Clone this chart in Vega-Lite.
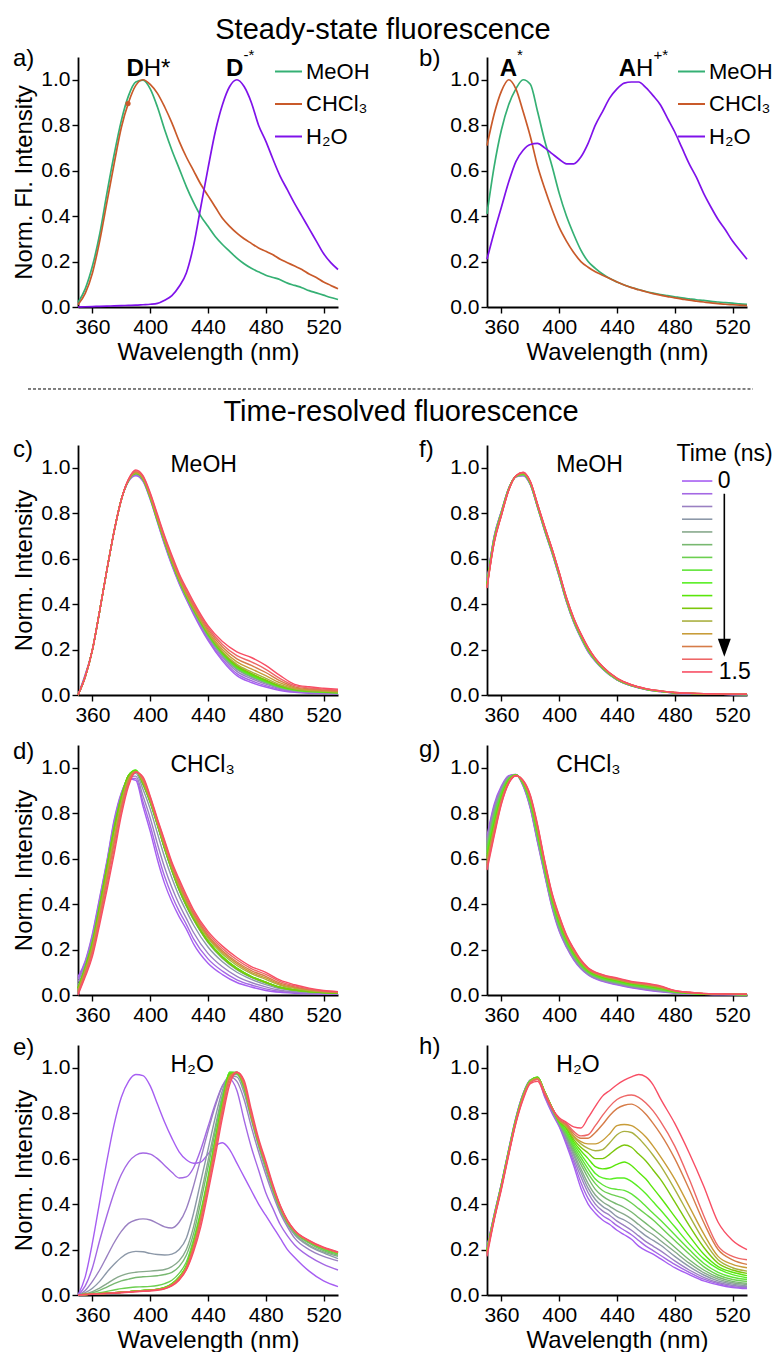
{
"$schema":"https://vega.github.io/schema/vega-lite/v6.json",
"padding":{"left":12,"top":16,"right":0,"bottom":0},
"background":"white",
"title":{"text":"Steady-state fluorescence","fontSize":29,"fontWeight":"normal","font":"Liberation Sans","color":"#000","anchor":"middle","frame":"bounds","dx":-10,"offset":2},
"config":{"font":"Liberation Sans","view":{"stroke":null},
"axis":{"labelFont":"Liberation Sans","labelFontSize":21,"labelColor":"#000","titleFont":"Liberation Sans","titleFontSize":24,"titleFontWeight":"normal","titleColor":"#000","domainColor":"#000","domainWidth":1.8,"tickColor":"#000","tickWidth":1.4,"grid":false,"labelOverlap":false,"labelFlush":false,"labelPadding":3},
"axisX":{"titlePadding":3},"axisY":{"titlePadding":4,"labelPadding":2},
"legend":{"labelFont":"Liberation Sans","labelColor":"#000","padding":0},
"text":{"font":"Liberation Sans","color":"#000"}},
"datasets":{
"times":[{"key":"t0","t":0},{"key":"t1","t":0.1},{"key":"t2","t":0.2},{"key":"t3","t":0.3},{"key":"t4","t":0.4},{"key":"t5","t":0.5},{"key":"t6","t":0.6},{"key":"t7","t":0.7},{"key":"t8","t":0.8},{"key":"t9","t":0.9},{"key":"t10","t":1.0},{"key":"t11","t":1.1},{"key":"t12","t":1.2},{"key":"t13","t":1.3},{"key":"t14","t":1.4},{"key":"t15","t":1.5}],
"a":[
{"w":350,"MeOH":0.02,"CHCl3":0.01,"H2O":0},
{"w":355,"MeOH":0.08,"CHCl3":0.06,"H2O":0.001},
{"w":360,"MeOH":0.18,"CHCl3":0.15,"H2O":0.002},
{"w":365,"MeOH":0.32,"CHCl3":0.29,"H2O":0.003},
{"w":370,"MeOH":0.5,"CHCl3":0.46,"H2O":0.004},
{"w":375,"MeOH":0.67,"CHCl3":0.63,"H2O":0.005},
{"w":380,"MeOH":0.82,"CHCl3":0.79,"H2O":0.006},
{"w":385,"MeOH":0.93,"CHCl3":0.9,"H2O":0.007},
{"w":390,"MeOH":0.99,"CHCl3":0.975,"H2O":0.008},
{"w":395,"MeOH":0.998,"CHCl3":1.0,"H2O":0.01},
{"w":400,"MeOH":0.96,"CHCl3":0.98,"H2O":0.012},
{"w":405,"MeOH":0.88,"CHCl3":0.94,"H2O":0.016},
{"w":410,"MeOH":0.78,"CHCl3":0.88,"H2O":0.03},
{"w":415,"MeOH":0.69,"CHCl3":0.81,"H2O":0.05},
{"w":420,"MeOH":0.61,"CHCl3":0.73,"H2O":0.09},
{"w":425,"MeOH":0.53,"CHCl3":0.66,"H2O":0.15},
{"w":430,"MeOH":0.46,"CHCl3":0.6,"H2O":0.27},
{"w":435,"MeOH":0.4,"CHCl3":0.54,"H2O":0.44},
{"w":440,"MeOH":0.355,"CHCl3":0.49,"H2O":0.61},
{"w":445,"MeOH":0.31,"CHCl3":0.44,"H2O":0.77},
{"w":450,"MeOH":0.275,"CHCl3":0.39,"H2O":0.89},
{"w":455,"MeOH":0.245,"CHCl3":0.355,"H2O":0.97},
{"w":460,"MeOH":0.215,"CHCl3":0.325,"H2O":1.0},
{"w":465,"MeOH":0.19,"CHCl3":0.3,"H2O":0.97},
{"w":470,"MeOH":0.17,"CHCl3":0.28,"H2O":0.9},
{"w":475,"MeOH":0.155,"CHCl3":0.26,"H2O":0.8},
{"w":480,"MeOH":0.14,"CHCl3":0.245,"H2O":0.73},
{"w":485,"MeOH":0.13,"CHCl3":0.23,"H2O":0.65},
{"w":490,"MeOH":0.12,"CHCl3":0.21,"H2O":0.575},
{"w":495,"MeOH":0.105,"CHCl3":0.195,"H2O":0.515},
{"w":500,"MeOH":0.095,"CHCl3":0.18,"H2O":0.455},
{"w":505,"MeOH":0.085,"CHCl3":0.165,"H2O":0.4},
{"w":510,"MeOH":0.072,"CHCl3":0.145,"H2O":0.345},
{"w":515,"MeOH":0.062,"CHCl3":0.13,"H2O":0.29},
{"w":520,"MeOH":0.052,"CHCl3":0.11,"H2O":0.235},
{"w":525,"MeOH":0.042,"CHCl3":0.095,"H2O":0.195},
{"w":530,"MeOH":0.033,"CHCl3":0.08,"H2O":0.165}],
"b":[
{"w":350,"MeOH":0.41,"CHCl3":0.71,"H2O":0.21},
{"w":355,"MeOH":0.62,"CHCl3":0.85,"H2O":0.33},
{"w":360,"MeOH":0.78,"CHCl3":0.95,"H2O":0.44},
{"w":365,"MeOH":0.89,"CHCl3":1.0,"H2O":0.55},
{"w":370,"MeOH":0.96,"CHCl3":0.96,"H2O":0.64},
{"w":375,"MeOH":1.0,"CHCl3":0.86,"H2O":0.69},
{"w":380,"MeOH":0.98,"CHCl3":0.75,"H2O":0.715},
{"w":385,"MeOH":0.86,"CHCl3":0.62,"H2O":0.72},
{"w":390,"MeOH":0.73,"CHCl3":0.52,"H2O":0.7},
{"w":395,"MeOH":0.62,"CHCl3":0.43,"H2O":0.675},
{"w":400,"MeOH":0.5,"CHCl3":0.35,"H2O":0.65},
{"w":405,"MeOH":0.4,"CHCl3":0.29,"H2O":0.63},
{"w":410,"MeOH":0.32,"CHCl3":0.24,"H2O":0.63},
{"w":415,"MeOH":0.25,"CHCl3":0.2,"H2O":0.66},
{"w":420,"MeOH":0.2,"CHCl3":0.175,"H2O":0.72},
{"w":425,"MeOH":0.17,"CHCl3":0.155,"H2O":0.8},
{"w":430,"MeOH":0.145,"CHCl3":0.14,"H2O":0.86},
{"w":435,"MeOH":0.125,"CHCl3":0.125,"H2O":0.92},
{"w":440,"MeOH":0.11,"CHCl3":0.11,"H2O":0.96},
{"w":445,"MeOH":0.097,"CHCl3":0.097,"H2O":0.985},
{"w":450,"MeOH":0.086,"CHCl3":0.085,"H2O":0.99},
{"w":455,"MeOH":0.077,"CHCl3":0.076,"H2O":0.99},
{"w":460,"MeOH":0.068,"CHCl3":0.067,"H2O":0.965},
{"w":465,"MeOH":0.061,"CHCl3":0.059,"H2O":0.93},
{"w":470,"MeOH":0.055,"CHCl3":0.052,"H2O":0.89},
{"w":475,"MeOH":0.05,"CHCl3":0.046,"H2O":0.83},
{"w":480,"MeOH":0.045,"CHCl3":0.04,"H2O":0.77},
{"w":485,"MeOH":0.04,"CHCl3":0.035,"H2O":0.7},
{"w":490,"MeOH":0.036,"CHCl3":0.03,"H2O":0.63},
{"w":495,"MeOH":0.032,"CHCl3":0.026,"H2O":0.57},
{"w":500,"MeOH":0.029,"CHCl3":0.022,"H2O":0.5},
{"w":505,"MeOH":0.025,"CHCl3":0.018,"H2O":0.44},
{"w":510,"MeOH":0.022,"CHCl3":0.015,"H2O":0.385},
{"w":515,"MeOH":0.019,"CHCl3":0.012,"H2O":0.34},
{"w":520,"MeOH":0.017,"CHCl3":0.01,"H2O":0.29},
{"w":525,"MeOH":0.014,"CHCl3":0.008,"H2O":0.25},
{"w":530,"MeOH":0.012,"CHCl3":0.006,"H2O":0.21}],
"c":[
{"w":350,"t0":0,"t1":0,"t2":0,"t3":0,"t4":0,"t5":0,"t6":0,"t7":0,"t8":0,"t9":0,"t10":0,"t11":0,"t12":0,"t13":0,"t14":0,"t15":0},
{"w":355,"t0":0.09,"t1":0.088,"t2":0.085,"t3":0.082,"t4":0.08,"t5":0.08,"t6":0.08,"t7":0.08,"t8":0.08,"t9":0.08,"t10":0.08,"t11":0.08,"t12":0.08,"t13":0.08,"t14":0.08,"t15":0.08},
{"w":360,"t0":0.2,"t1":0.2,"t2":0.2,"t3":0.2,"t4":0.2,"t5":0.2,"t6":0.2,"t7":0.2,"t8":0.2,"t9":0.2,"t10":0.2,"t11":0.2,"t12":0.2,"t13":0.2,"t14":0.2,"t15":0.2},
{"w":365,"t0":0.37,"t1":0.37,"t2":0.37,"t3":0.37,"t4":0.37,"t5":0.37,"t6":0.37,"t7":0.37,"t8":0.37,"t9":0.37,"t10":0.37,"t11":0.37,"t12":0.37,"t13":0.37,"t14":0.37,"t15":0.37},
{"w":370,"t0":0.55,"t1":0.55,"t2":0.55,"t3":0.55,"t4":0.55,"t5":0.55,"t6":0.55,"t7":0.55,"t8":0.55,"t9":0.55,"t10":0.55,"t11":0.55,"t12":0.55,"t13":0.55,"t14":0.55,"t15":0.55},
{"w":375,"t0":0.72,"t1":0.72,"t2":0.72,"t3":0.72,"t4":0.72,"t5":0.72,"t6":0.72,"t7":0.72,"t8":0.72,"t9":0.72,"t10":0.72,"t11":0.72,"t12":0.72,"t13":0.72,"t14":0.72,"t15":0.72},
{"w":380,"t0":0.86,"t1":0.86,"t2":0.86,"t3":0.86,"t4":0.86,"t5":0.86,"t6":0.86,"t7":0.86,"t8":0.86,"t9":0.86,"t10":0.86,"t11":0.86,"t12":0.86,"t13":0.86,"t14":0.86,"t15":0.86},
{"w":385,"t0":0.94,"t1":0.941,"t2":0.943,"t3":0.944,"t4":0.945,"t5":0.945,"t6":0.945,"t7":0.945,"t8":0.945,"t9":0.945,"t10":0.946,"t11":0.946,"t12":0.947,"t13":0.948,"t14":0.949,"t15":0.95},
{"w":390,"t0":0.965,"t1":0.968,"t2":0.971,"t3":0.973,"t4":0.975,"t5":0.975,"t6":0.975,"t7":0.975,"t8":0.975,"t9":0.975,"t10":0.977,"t11":0.978,"t12":0.98,"t13":0.983,"t14":0.986,"t15":0.99},
{"w":395,"t0":0.94,"t1":0.943,"t2":0.946,"t3":0.948,"t4":0.95,"t5":0.95,"t6":0.95,"t7":0.95,"t8":0.95,"t9":0.95,"t10":0.952,"t11":0.953,"t12":0.955,"t13":0.958,"t14":0.961,"t15":0.965},
{"w":400,"t0":0.86,"t1":0.863,"t2":0.866,"t3":0.868,"t4":0.87,"t5":0.87,"t6":0.87,"t7":0.87,"t8":0.87,"t9":0.87,"t10":0.872,"t11":0.874,"t12":0.877,"t13":0.881,"t14":0.885,"t15":0.89},
{"w":405,"t0":0.76,"t1":0.763,"t2":0.766,"t3":0.768,"t4":0.77,"t5":0.77,"t6":0.77,"t7":0.77,"t8":0.77,"t9":0.77,"t10":0.773,"t11":0.775,"t12":0.779,"t13":0.784,"t14":0.789,"t15":0.795},
{"w":410,"t0":0.66,"t1":0.664,"t2":0.668,"t3":0.672,"t4":0.675,"t5":0.675,"t6":0.675,"t7":0.675,"t8":0.675,"t9":0.675,"t10":0.678,"t11":0.68,"t12":0.684,"t13":0.689,"t14":0.694,"t15":0.7},
{"w":415,"t0":0.57,"t1":0.574,"t2":0.578,"t3":0.582,"t4":0.585,"t5":0.585,"t6":0.585,"t7":0.585,"t8":0.585,"t9":0.585,"t10":0.588,"t11":0.591,"t12":0.596,"t13":0.602,"t14":0.608,"t15":0.615},
{"w":420,"t0":0.49,"t1":0.494,"t2":0.498,"t3":0.502,"t4":0.505,"t5":0.505,"t6":0.505,"t7":0.505,"t8":0.505,"t9":0.505,"t10":0.508,"t11":0.511,"t12":0.516,"t13":0.522,"t14":0.528,"t15":0.535},
{"w":425,"t0":0.42,"t1":0.424,"t2":0.428,"t3":0.432,"t4":0.433,"t5":0.434,"t6":0.435,"t7":0.436,"t8":0.437,"t9":0.437,"t10":0.439,"t11":0.442,"t12":0.447,"t13":0.454,"t14":0.461,"t15":0.47},
{"w":430,"t0":0.355,"t1":0.36,"t2":0.366,"t3":0.371,"t4":0.373,"t5":0.374,"t6":0.375,"t7":0.376,"t8":0.377,"t9":0.378,"t10":0.379,"t11":0.382,"t12":0.387,"t13":0.394,"t14":0.401,"t15":0.41},
{"w":440,"t0":0.24,"t1":0.246,"t2":0.254,"t3":0.26,"t4":0.262,"t5":0.264,"t6":0.265,"t7":0.266,"t8":0.268,"t9":0.27,"t10":0.272,"t11":0.275,"t12":0.281,"t13":0.289,"t14":0.297,"t15":0.305},
{"w":450,"t0":0.15,"t1":0.158,"t2":0.167,"t3":0.174,"t4":0.176,"t5":0.178,"t6":0.18,"t7":0.182,"t8":0.184,"t9":0.186,"t10":0.188,"t11":0.192,"t12":0.2,"t13":0.211,"t14":0.222,"t15":0.235},
{"w":460,"t0":0.085,"t1":0.094,"t2":0.104,"t3":0.113,"t4":0.115,"t5":0.117,"t6":0.12,"t7":0.122,"t8":0.124,"t9":0.126,"t10":0.129,"t11":0.135,"t12":0.146,"t13":0.159,"t14":0.173,"t15":0.19},
{"w":470,"t0":0.055,"t1":0.063,"t2":0.072,"t3":0.079,"t4":0.081,"t5":0.083,"t6":0.085,"t7":0.087,"t8":0.089,"t9":0.091,"t10":0.095,"t11":0.102,"t12":0.115,"t13":0.13,"t14":0.146,"t15":0.165},
{"w":480,"t0":0.035,"t1":0.041,"t2":0.048,"t3":0.053,"t4":0.055,"t5":0.056,"t6":0.058,"t7":0.06,"t8":0.061,"t9":0.063,"t10":0.066,"t11":0.073,"t12":0.085,"t13":0.099,"t14":0.113,"t15":0.13},
{"w":490,"t0":0.02,"t1":0.024,"t2":0.028,"t3":0.032,"t4":0.033,"t5":0.034,"t6":0.035,"t7":0.036,"t8":0.037,"t9":0.038,"t10":0.04,"t11":0.045,"t12":0.053,"t13":0.062,"t14":0.072,"t15":0.085},
{"w":500,"t0":0.012,"t1":0.015,"t2":0.018,"t3":0.02,"t4":0.021,"t5":0.021,"t6":0.022,"t7":0.023,"t8":0.023,"t9":0.024,"t10":0.025,"t11":0.027,"t12":0.031,"t13":0.036,"t14":0.041,"t15":0.047},
{"w":510,"t0":0.008,"t1":0.01,"t2":0.012,"t3":0.014,"t4":0.015,"t5":0.015,"t6":0.016,"t7":0.016,"t8":0.017,"t9":0.017,"t10":0.018,"t11":0.02,"t12":0.023,"t13":0.027,"t14":0.031,"t15":0.036},
{"w":520,"t0":0.006,"t1":0.008,"t2":0.01,"t3":0.011,"t4":0.012,"t5":0.012,"t6":0.013,"t7":0.013,"t8":0.014,"t9":0.014,"t10":0.015,"t11":0.017,"t12":0.019,"t13":0.022,"t14":0.026,"t15":0.03},
{"w":530,"t0":0.005,"t1":0.006,"t2":0.008,"t3":0.009,"t4":0.009,"t5":0.01,"t6":0.01,"t7":0.01,"t8":0.011,"t9":0.011,"t10":0.012,"t11":0.013,"t12":0.015,"t13":0.018,"t14":0.021,"t15":0.025}],
"d":[
{"w":350,"t0":0.08,"t1":0.07,"t2":0.058,"t3":0.043,"t4":0.03,"t5":0.03,"t6":0.03,"t7":0.03,"t8":0.03,"t9":0.03,"t10":0.03,"t11":0.021,"t12":0.017,"t13":0.012,"t14":0.006,"t15":0},
{"w":355,"t0":0.15,"t1":0.144,"t2":0.137,"t3":0.128,"t4":0.12,"t5":0.12,"t6":0.12,"t7":0.12,"t8":0.12,"t9":0.12,"t10":0.12,"t11":0.108,"t12":0.102,"t13":0.096,"t14":0.088,"t15":0.08},
{"w":360,"t0":0.27,"t1":0.262,"t2":0.252,"t3":0.24,"t4":0.23,"t5":0.23,"t6":0.23,"t7":0.23,"t8":0.23,"t9":0.23,"t10":0.23,"t11":0.212,"t12":0.203,"t13":0.194,"t14":0.182,"t15":0.17},
{"w":365,"t0":0.43,"t1":0.422,"t2":0.412,"t3":0.4,"t4":0.39,"t5":0.39,"t6":0.39,"t7":0.39,"t8":0.39,"t9":0.39,"t10":0.39,"t11":0.366,"t12":0.354,"t13":0.342,"t14":0.326,"t15":0.31},
{"w":370,"t0":0.59,"t1":0.584,"t2":0.576,"t3":0.568,"t4":0.56,"t5":0.56,"t6":0.56,"t7":0.56,"t8":0.56,"t9":0.56,"t10":0.56,"t11":0.53,"t12":0.515,"t13":0.5,"t14":0.48,"t15":0.46},
{"w":375,"t0":0.77,"t1":0.762,"t2":0.752,"t3":0.74,"t4":0.73,"t5":0.73,"t6":0.73,"t7":0.73,"t8":0.73,"t9":0.73,"t10":0.73,"t11":0.697,"t12":0.68,"t13":0.664,"t14":0.642,"t15":0.62},
{"w":380,"t0":0.89,"t1":0.886,"t2":0.881,"t3":0.875,"t4":0.87,"t5":0.87,"t6":0.87,"t7":0.87,"t8":0.87,"t9":0.87,"t10":0.87,"t11":0.846,"t12":0.834,"t13":0.822,"t14":0.806,"t15":0.79},
{"w":385,"t0":0.95,"t1":0.953,"t2":0.957,"t3":0.961,"t4":0.963,"t5":0.964,"t6":0.965,"t7":0.966,"t8":0.967,"t9":0.966,"t10":0.965,"t11":0.952,"t12":0.945,"t13":0.938,"t14":0.929,"t15":0.92},
{"w":390,"t0":0.945,"t1":0.953,"t2":0.963,"t3":0.975,"t4":0.982,"t5":0.984,"t6":0.986,"t7":0.988,"t8":0.99,"t9":0.988,"t10":0.985,"t11":0.984,"t12":0.983,"t13":0.982,"t14":0.981,"t15":0.98},
{"w":395,"t0":0.83,"t1":0.85,"t2":0.875,"t3":0.905,"t4":0.926,"t5":0.928,"t6":0.93,"t7":0.932,"t8":0.934,"t9":0.932,"t10":0.93,"t11":0.939,"t12":0.944,"t13":0.948,"t14":0.954,"t15":0.96},
{"w":400,"t0":0.72,"t1":0.746,"t2":0.779,"t3":0.818,"t4":0.846,"t5":0.848,"t6":0.85,"t7":0.852,"t8":0.854,"t9":0.852,"t10":0.85,"t11":0.858,"t12":0.861,"t13":0.865,"t14":0.87,"t15":0.875},
{"w":405,"t0":0.595,"t1":0.626,"t2":0.665,"t3":0.711,"t4":0.746,"t5":0.748,"t6":0.75,"t7":0.752,"t8":0.754,"t9":0.752,"t10":0.75,"t11":0.758,"t12":0.761,"t13":0.765,"t14":0.77,"t15":0.775},
{"w":410,"t0":0.49,"t1":0.521,"t2":0.56,"t3":0.606,"t4":0.641,"t5":0.643,"t6":0.645,"t7":0.647,"t8":0.649,"t9":0.647,"t10":0.645,"t11":0.656,"t12":0.661,"t13":0.666,"t14":0.673,"t15":0.68},
{"w":415,"t0":0.41,"t1":0.438,"t2":0.473,"t3":0.515,"t4":0.546,"t5":0.548,"t6":0.55,"t7":0.552,"t8":0.554,"t9":0.552,"t10":0.55,"t11":0.561,"t12":0.566,"t13":0.571,"t14":0.578,"t15":0.585},
{"w":420,"t0":0.345,"t1":0.369,"t2":0.399,"t3":0.435,"t4":0.461,"t5":0.463,"t6":0.465,"t7":0.467,"t8":0.469,"t9":0.467,"t10":0.465,"t11":0.479,"t12":0.485,"t13":0.492,"t14":0.501,"t15":0.51},
{"w":425,"t0":0.29,"t1":0.311,"t2":0.337,"t3":0.369,"t4":0.391,"t5":0.393,"t6":0.395,"t7":0.397,"t8":0.399,"t9":0.397,"t10":0.395,"t11":0.409,"t12":0.415,"t13":0.422,"t14":0.431,"t15":0.44},
{"w":430,"t0":0.225,"t1":0.247,"t2":0.275,"t3":0.308,"t4":0.331,"t5":0.333,"t6":0.335,"t7":0.337,"t8":0.339,"t9":0.337,"t10":0.335,"t11":0.347,"t12":0.353,"t13":0.359,"t14":0.367,"t15":0.375},
{"w":440,"t0":0.14,"t1":0.159,"t2":0.183,"t3":0.211,"t4":0.231,"t5":0.233,"t6":0.235,"t7":0.237,"t8":0.239,"t9":0.237,"t10":0.235,"t11":0.249,"t12":0.255,"t13":0.262,"t14":0.271,"t15":0.28},
{"w":450,"t0":0.09,"t1":0.105,"t2":0.124,"t3":0.146,"t4":0.161,"t5":0.163,"t6":0.165,"t7":0.167,"t8":0.169,"t9":0.167,"t10":0.165,"t11":0.18,"t12":0.188,"t13":0.195,"t14":0.205,"t15":0.215},
{"w":460,"t0":0.055,"t1":0.067,"t2":0.082,"t3":0.1,"t4":0.112,"t5":0.113,"t6":0.115,"t7":0.117,"t8":0.118,"t9":0.117,"t10":0.115,"t11":0.13,"t12":0.138,"t13":0.145,"t14":0.155,"t15":0.165},
{"w":470,"t0":0.035,"t1":0.044,"t2":0.055,"t3":0.069,"t4":0.078,"t5":0.079,"t6":0.08,"t7":0.081,"t8":0.082,"t9":0.081,"t10":0.08,"t11":0.094,"t12":0.1,"t13":0.107,"t14":0.116,"t15":0.125},
{"w":480,"t0":0.02,"t1":0.027,"t2":0.036,"t3":0.046,"t4":0.053,"t5":0.054,"t6":0.055,"t7":0.056,"t8":0.057,"t9":0.056,"t10":0.055,"t11":0.069,"t12":0.075,"t13":0.082,"t14":0.091,"t15":0.1},
{"w":490,"t0":0.012,"t1":0.016,"t2":0.021,"t3":0.028,"t4":0.032,"t5":0.032,"t6":0.033,"t7":0.034,"t8":0.034,"t9":0.034,"t10":0.033,"t11":0.043,"t12":0.047,"t13":0.052,"t14":0.059,"t15":0.065},
{"w":500,"t0":0.008,"t1":0.011,"t2":0.014,"t3":0.018,"t4":0.021,"t5":0.021,"t6":0.022,"t7":0.022,"t8":0.023,"t9":0.022,"t10":0.022,"t11":0.029,"t12":0.032,"t13":0.036,"t14":0.04,"t15":0.045},
{"w":510,"t0":0.005,"t1":0.007,"t2":0.009,"t3":0.012,"t4":0.014,"t5":0.015,"t6":0.015,"t7":0.015,"t8":0.016,"t9":0.015,"t10":0.015,"t11":0.02,"t12":0.022,"t13":0.024,"t14":0.027,"t15":0.03},
{"w":520,"t0":0.004,"t1":0.005,"t2":0.007,"t3":0.009,"t4":0.011,"t5":0.011,"t6":0.011,"t7":0.011,"t8":0.012,"t9":0.011,"t10":0.011,"t11":0.014,"t12":0.015,"t13":0.016,"t14":0.018,"t15":0.02},
{"w":530,"t0":0.003,"t1":0.004,"t2":0.006,"t3":0.007,"t4":0.009,"t5":0.009,"t6":0.009,"t7":0.009,"t8":0.009,"t9":0.009,"t10":0.009,"t11":0.011,"t12":0.012,"t13":0.013,"t14":0.014,"t15":0.015}],
"e":[
{"w":350,"t0":0,"t1":0,"t2":0,"t3":0,"t4":0,"t5":0,"t6":0,"t7":0,"t8":0,"t9":0,"t10":0,"t11":0,"t12":0,"t13":0,"t14":0,"t15":0},
{"w":355,"t0":0.08,"t1":0.04,"t2":0.02,"t3":0.01,"t4":0.005,"t5":0.004,"t6":0.003,"t7":0.002,"t8":0.002,"t9":0.002,"t10":0.002,"t11":0.002,"t12":0.002,"t13":0.002,"t14":0.002,"t15":0.002},
{"w":360,"t0":0.23,"t1":0.12,"t2":0.06,"t3":0.03,"t4":0.015,"t5":0.01,"t6":0.006,"t7":0.004,"t8":0.004,"t9":0.004,"t10":0.004,"t11":0.004,"t12":0.004,"t13":0.004,"t14":0.004,"t15":0.003},
{"w":365,"t0":0.41,"t1":0.24,"t2":0.11,"t3":0.06,"t4":0.03,"t5":0.02,"t6":0.01,"t7":0.006,"t8":0.006,"t9":0.006,"t10":0.006,"t11":0.006,"t12":0.006,"t13":0.006,"t14":0.005,"t15":0.005},
{"w":370,"t0":0.59,"t1":0.35,"t2":0.17,"t3":0.1,"t4":0.05,"t5":0.035,"t6":0.016,"t7":0.008,"t8":0.008,"t9":0.008,"t10":0.008,"t11":0.008,"t12":0.008,"t13":0.008,"t14":0.007,"t15":0.006},
{"w":375,"t0":0.75,"t1":0.45,"t2":0.23,"t3":0.135,"t4":0.07,"t5":0.05,"t6":0.022,"t7":0.01,"t8":0.01,"t9":0.01,"t10":0.01,"t11":0.01,"t12":0.01,"t13":0.01,"t14":0.009,"t15":0.008},
{"w":380,"t0":0.87,"t1":0.53,"t2":0.28,"t3":0.165,"t4":0.085,"t5":0.062,"t6":0.028,"t7":0.012,"t8":0.012,"t9":0.012,"t10":0.012,"t11":0.012,"t12":0.012,"t13":0.012,"t14":0.011,"t15":0.01},
{"w":385,"t0":0.94,"t1":0.585,"t2":0.315,"t3":0.185,"t4":0.095,"t5":0.07,"t6":0.032,"t7":0.015,"t8":0.015,"t9":0.015,"t10":0.014,"t11":0.014,"t12":0.014,"t13":0.014,"t14":0.013,"t15":0.012},
{"w":390,"t0":0.97,"t1":0.615,"t2":0.33,"t3":0.192,"t4":0.1,"t5":0.077,"t6":0.035,"t7":0.018,"t8":0.018,"t9":0.018,"t10":0.017,"t11":0.017,"t12":0.017,"t13":0.016,"t14":0.015,"t15":0.014},
{"w":395,"t0":0.965,"t1":0.625,"t2":0.335,"t3":0.19,"t4":0.103,"t5":0.08,"t6":0.036,"t7":0.02,"t8":0.02,"t9":0.02,"t10":0.019,"t11":0.019,"t12":0.019,"t13":0.018,"t14":0.017,"t15":0.016},
{"w":400,"t0":0.92,"t1":0.62,"t2":0.33,"t3":0.183,"t4":0.105,"t5":0.082,"t6":0.038,"t7":0.022,"t8":0.022,"t9":0.022,"t10":0.021,"t11":0.021,"t12":0.021,"t13":0.02,"t14":0.019,"t15":0.018},
{"w":405,"t0":0.84,"t1":0.6,"t2":0.315,"t3":0.178,"t4":0.108,"t5":0.085,"t6":0.042,"t7":0.026,"t8":0.026,"t9":0.025,"t10":0.025,"t11":0.024,"t12":0.024,"t13":0.023,"t14":0.022,"t15":0.021},
{"w":410,"t0":0.76,"t1":0.57,"t2":0.3,"t3":0.176,"t4":0.112,"t5":0.09,"t6":0.05,"t7":0.033,"t8":0.033,"t9":0.032,"t10":0.031,"t11":0.03,"t12":0.03,"t13":0.029,"t14":0.028,"t15":0.027},
{"w":415,"t0":0.69,"t1":0.54,"t2":0.295,"t3":0.18,"t4":0.125,"t5":0.1,"t6":0.065,"t7":0.05,"t8":0.049,"t9":0.048,"t10":0.047,"t11":0.046,"t12":0.045,"t13":0.044,"t14":0.042,"t15":0.04},
{"w":420,"t0":0.63,"t1":0.515,"t2":0.32,"t3":0.2,"t4":0.15,"t5":0.125,"t6":0.095,"t7":0.08,"t8":0.079,"t9":0.078,"t10":0.076,"t11":0.075,"t12":0.073,"t13":0.071,"t14":0.068,"t15":0.065},
{"w":425,"t0":0.595,"t1":0.52,"t2":0.38,"t3":0.25,"t4":0.2,"t5":0.175,"t6":0.145,"t7":0.13,"t8":0.128,"t9":0.126,"t10":0.124,"t11":0.122,"t12":0.12,"t13":0.117,"t14":0.113,"t15":0.11},
{"w":430,"t0":0.58,"t1":0.56,"t2":0.48,"t3":0.36,"t4":0.3,"t5":0.27,"t6":0.245,"t7":0.23,"t8":0.228,"t9":0.226,"t10":0.222,"t11":0.218,"t12":0.215,"t13":0.21,"t14":0.2,"t15":0.19},
{"w":435,"t0":0.585,"t1":0.64,"t2":0.6,"t3":0.5,"t4":0.44,"t5":0.41,"t6":0.37,"t7":0.36,"t8":0.357,"t9":0.354,"t10":0.348,"t11":0.343,"t12":0.338,"t13":0.33,"t14":0.32,"t15":0.3},
{"w":440,"t0":0.62,"t1":0.74,"t2":0.72,"t3":0.64,"t4":0.59,"t5":0.56,"t6":0.52,"t7":0.51,"t8":0.507,"t9":0.504,"t10":0.498,"t11":0.493,"t12":0.488,"t13":0.48,"t14":0.47,"t15":0.45},
{"w":445,"t0":0.655,"t1":0.84,"t2":0.83,"t3":0.78,"t4":0.74,"t5":0.72,"t6":0.69,"t7":0.68,"t8":0.677,"t9":0.673,"t10":0.665,"t11":0.66,"t12":0.655,"t13":0.645,"t14":0.635,"t15":0.61},
{"w":450,"t0":0.67,"t1":0.92,"t2":0.92,"t3":0.9,"t4":0.88,"t5":0.87,"t6":0.86,"t7":0.85,"t8":0.847,"t9":0.843,"t10":0.835,"t11":0.83,"t12":0.825,"t13":0.815,"t14":0.8,"t15":0.78},
{"w":455,"t0":0.64,"t1":0.95,"t2":0.96,"t3":0.965,"t4":0.97,"t5":0.97,"t6":0.98,"t7":0.98,"t8":0.978,"t9":0.975,"t10":0.968,"t11":0.963,"t12":0.96,"t13":0.952,"t14":0.94,"t15":0.925},
{"w":460,"t0":0.58,"t1":0.9,"t2":0.94,"t3":0.96,"t4":0.97,"t5":0.975,"t6":0.98,"t7":0.975,"t8":0.976,"t9":0.977,"t10":0.978,"t11":0.979,"t12":0.98,"t13":0.98,"t14":0.98,"t15":0.98},
{"w":465,"t0":0.52,"t1":0.77,"t2":0.86,"t3":0.89,"t4":0.905,"t5":0.91,"t6":0.92,"t7":0.915,"t8":0.917,"t9":0.919,"t10":0.921,"t11":0.923,"t12":0.925,"t13":0.93,"t14":0.935,"t15":0.945},
{"w":470,"t0":0.46,"t1":0.65,"t2":0.74,"t3":0.77,"t4":0.78,"t5":0.785,"t6":0.79,"t7":0.785,"t8":0.786,"t9":0.787,"t10":0.788,"t11":0.789,"t12":0.79,"t13":0.795,"t14":0.8,"t15":0.815},
{"w":475,"t0":0.4,"t1":0.55,"t2":0.63,"t3":0.655,"t4":0.66,"t5":0.665,"t6":0.67,"t7":0.67,"t8":0.671,"t9":0.672,"t10":0.673,"t11":0.674,"t12":0.675,"t13":0.677,"t14":0.68,"t15":0.69},
{"w":480,"t0":0.35,"t1":0.45,"t2":0.53,"t3":0.55,"t4":0.56,"t5":0.565,"t6":0.57,"t7":0.572,"t8":0.573,"t9":0.574,"t10":0.575,"t11":0.576,"t12":0.577,"t13":0.578,"t14":0.58,"t15":0.59},
{"w":485,"t0":0.3,"t1":0.38,"t2":0.44,"t3":0.455,"t4":0.46,"t5":0.465,"t6":0.47,"t7":0.47,"t8":0.471,"t9":0.472,"t10":0.473,"t11":0.474,"t12":0.475,"t13":0.476,"t14":0.478,"t15":0.485},
{"w":490,"t0":0.25,"t1":0.31,"t2":0.36,"t3":0.37,"t4":0.375,"t5":0.38,"t6":0.385,"t7":0.385,"t8":0.386,"t9":0.387,"t10":0.388,"t11":0.388,"t12":0.389,"t13":0.39,"t14":0.39,"t15":0.395},
{"w":495,"t0":0.2,"t1":0.26,"t2":0.3,"t3":0.31,"t4":0.315,"t5":0.318,"t6":0.32,"t7":0.322,"t8":0.322,"t9":0.323,"t10":0.323,"t11":0.324,"t12":0.324,"t13":0.325,"t14":0.326,"t15":0.33},
{"w":500,"t0":0.165,"t1":0.22,"t2":0.25,"t3":0.265,"t4":0.27,"t5":0.275,"t6":0.278,"t7":0.28,"t8":0.28,"t9":0.281,"t10":0.281,"t11":0.282,"t12":0.282,"t13":0.282,"t14":0.283,"t15":0.285},
{"w":510,"t0":0.105,"t1":0.17,"t2":0.2,"t3":0.215,"t4":0.22,"t5":0.228,"t6":0.232,"t7":0.235,"t8":0.235,"t9":0.236,"t10":0.236,"t11":0.237,"t12":0.237,"t13":0.237,"t14":0.238,"t15":0.24},
{"w":520,"t0":0.062,"t1":0.135,"t2":0.17,"t3":0.185,"t4":0.19,"t5":0.195,"t6":0.2,"t7":0.205,"t8":0.205,"t9":0.206,"t10":0.206,"t11":0.207,"t12":0.207,"t13":0.207,"t14":0.208,"t15":0.21},
{"w":530,"t0":0.037,"t1":0.11,"t2":0.15,"t3":0.16,"t4":0.17,"t5":0.175,"t6":0.18,"t7":0.185,"t8":0.185,"t9":0.186,"t10":0.186,"t11":0.187,"t12":0.187,"t13":0.187,"t14":0.188,"t15":0.19}],
"f":[
{"w":350,"t0":0.5,"t1":0.498,"t2":0.496,"t3":0.494,"t4":0.492,"t5":0.49,"t6":0.488,"t7":0.486,"t8":0.484,"t9":0.482,"t10":0.48,"t11":0.478,"t12":0.476,"t13":0.474,"t14":0.472,"t15":0.47},
{"w":355,"t0":0.7,"t1":0.698,"t2":0.696,"t3":0.694,"t4":0.692,"t5":0.69,"t6":0.688,"t7":0.686,"t8":0.684,"t9":0.682,"t10":0.68,"t11":0.678,"t12":0.676,"t13":0.674,"t14":0.672,"t15":0.67},
{"w":360,"t0":0.81,"t1":0.809,"t2":0.807,"t3":0.806,"t4":0.805,"t5":0.803,"t6":0.802,"t7":0.801,"t8":0.799,"t9":0.798,"t10":0.797,"t11":0.795,"t12":0.794,"t13":0.793,"t14":0.791,"t15":0.79},
{"w":365,"t0":0.91,"t1":0.909,"t2":0.909,"t3":0.908,"t4":0.907,"t5":0.907,"t6":0.906,"t7":0.905,"t8":0.905,"t9":0.904,"t10":0.903,"t11":0.903,"t12":0.902,"t13":0.901,"t14":0.901,"t15":0.9},
{"w":370,"t0":0.96,"t1":0.96,"t2":0.961,"t3":0.961,"t4":0.961,"t5":0.962,"t6":0.962,"t7":0.962,"t8":0.963,"t9":0.963,"t10":0.963,"t11":0.964,"t12":0.964,"t13":0.964,"t14":0.965,"t15":0.965},
{"w":375,"t0":0.965,"t1":0.966,"t2":0.967,"t3":0.968,"t4":0.969,"t5":0.97,"t6":0.971,"t7":0.972,"t8":0.973,"t9":0.974,"t10":0.975,"t11":0.976,"t12":0.977,"t13":0.978,"t14":0.979,"t15":0.98},
{"w":380,"t0":0.925,"t1":0.926,"t2":0.927,"t3":0.928,"t4":0.929,"t5":0.93,"t6":0.931,"t7":0.932,"t8":0.933,"t9":0.934,"t10":0.935,"t11":0.936,"t12":0.937,"t13":0.938,"t14":0.939,"t15":0.94},
{"w":385,"t0":0.825,"t1":0.826,"t2":0.827,"t3":0.828,"t4":0.829,"t5":0.83,"t6":0.831,"t7":0.832,"t8":0.833,"t9":0.834,"t10":0.835,"t11":0.836,"t12":0.837,"t13":0.838,"t14":0.839,"t15":0.84},
{"w":390,"t0":0.72,"t1":0.721,"t2":0.723,"t3":0.724,"t4":0.725,"t5":0.727,"t6":0.728,"t7":0.729,"t8":0.731,"t9":0.732,"t10":0.733,"t11":0.735,"t12":0.736,"t13":0.737,"t14":0.739,"t15":0.74},
{"w":395,"t0":0.625,"t1":0.626,"t2":0.628,"t3":0.629,"t4":0.63,"t5":0.632,"t6":0.633,"t7":0.634,"t8":0.636,"t9":0.637,"t10":0.638,"t11":0.64,"t12":0.641,"t13":0.642,"t14":0.644,"t15":0.645},
{"w":400,"t0":0.52,"t1":0.521,"t2":0.523,"t3":0.524,"t4":0.525,"t5":0.527,"t6":0.528,"t7":0.529,"t8":0.531,"t9":0.532,"t10":0.533,"t11":0.535,"t12":0.536,"t13":0.537,"t14":0.539,"t15":0.54},
{"w":405,"t0":0.41,"t1":0.411,"t2":0.413,"t3":0.414,"t4":0.415,"t5":0.417,"t6":0.418,"t7":0.419,"t8":0.421,"t9":0.422,"t10":0.423,"t11":0.425,"t12":0.426,"t13":0.427,"t14":0.429,"t15":0.43},
{"w":410,"t0":0.32,"t1":0.321,"t2":0.323,"t3":0.324,"t4":0.325,"t5":0.327,"t6":0.328,"t7":0.329,"t8":0.331,"t9":0.332,"t10":0.333,"t11":0.335,"t12":0.336,"t13":0.337,"t14":0.339,"t15":0.34},
{"w":415,"t0":0.25,"t1":0.251,"t2":0.253,"t3":0.254,"t4":0.255,"t5":0.257,"t6":0.258,"t7":0.259,"t8":0.261,"t9":0.262,"t10":0.263,"t11":0.265,"t12":0.266,"t13":0.267,"t14":0.269,"t15":0.27},
{"w":420,"t0":0.19,"t1":0.191,"t2":0.193,"t3":0.194,"t4":0.195,"t5":0.197,"t6":0.198,"t7":0.199,"t8":0.201,"t9":0.202,"t10":0.203,"t11":0.205,"t12":0.206,"t13":0.207,"t14":0.209,"t15":0.21},
{"w":425,"t0":0.148,"t1":0.149,"t2":0.15,"t3":0.151,"t4":0.152,"t5":0.153,"t6":0.154,"t7":0.155,"t8":0.155,"t9":0.156,"t10":0.157,"t11":0.158,"t12":0.159,"t13":0.16,"t14":0.161,"t15":0.162},
{"w":430,"t0":0.114,"t1":0.115,"t2":0.116,"t3":0.116,"t4":0.117,"t5":0.118,"t6":0.119,"t7":0.12,"t8":0.12,"t9":0.121,"t10":0.122,"t11":0.123,"t12":0.124,"t13":0.124,"t14":0.125,"t15":0.126},
{"w":440,"t0":0.066,"t1":0.067,"t2":0.067,"t3":0.068,"t4":0.068,"t5":0.069,"t6":0.069,"t7":0.07,"t8":0.07,"t9":0.071,"t10":0.071,"t11":0.072,"t12":0.072,"t13":0.073,"t14":0.073,"t15":0.074},
{"w":450,"t0":0.04,"t1":0.04,"t2":0.041,"t3":0.041,"t4":0.041,"t5":0.042,"t6":0.042,"t7":0.042,"t8":0.043,"t9":0.043,"t10":0.043,"t11":0.044,"t12":0.044,"t13":0.044,"t14":0.045,"t15":0.045},
{"w":460,"t0":0.024,"t1":0.024,"t2":0.025,"t3":0.025,"t4":0.025,"t5":0.025,"t6":0.026,"t7":0.026,"t8":0.026,"t9":0.026,"t10":0.027,"t11":0.027,"t12":0.027,"t13":0.027,"t14":0.028,"t15":0.028},
{"w":470,"t0":0.015,"t1":0.015,"t2":0.015,"t3":0.016,"t4":0.016,"t5":0.016,"t6":0.016,"t7":0.016,"t8":0.017,"t9":0.017,"t10":0.017,"t11":0.017,"t12":0.017,"t13":0.018,"t14":0.018,"t15":0.018},
{"w":480,"t0":0.009,"t1":0.009,"t2":0.009,"t3":0.009,"t4":0.01,"t5":0.01,"t6":0.01,"t7":0.01,"t8":0.01,"t9":0.01,"t10":0.01,"t11":0.01,"t12":0.011,"t13":0.011,"t14":0.011,"t15":0.011},
{"w":490,"t0":0.006,"t1":0.006,"t2":0.006,"t3":0.006,"t4":0.007,"t5":0.007,"t6":0.007,"t7":0.007,"t8":0.007,"t9":0.007,"t10":0.007,"t11":0.007,"t12":0.008,"t13":0.008,"t14":0.008,"t15":0.008},
{"w":500,"t0":0.004,"t1":0.004,"t2":0.004,"t3":0.004,"t4":0.005,"t5":0.005,"t6":0.005,"t7":0.005,"t8":0.005,"t9":0.005,"t10":0.005,"t11":0.005,"t12":0.006,"t13":0.006,"t14":0.006,"t15":0.006},
{"w":510,"t0":0.003,"t1":0.003,"t2":0.003,"t3":0.003,"t4":0.004,"t5":0.004,"t6":0.004,"t7":0.004,"t8":0.004,"t9":0.004,"t10":0.004,"t11":0.004,"t12":0.005,"t13":0.005,"t14":0.005,"t15":0.005},
{"w":520,"t0":0.002,"t1":0.002,"t2":0.002,"t3":0.002,"t4":0.003,"t5":0.003,"t6":0.003,"t7":0.003,"t8":0.003,"t9":0.003,"t10":0.003,"t11":0.003,"t12":0.004,"t13":0.004,"t14":0.004,"t15":0.004},
{"w":530,"t0":0.002,"t1":0.002,"t2":0.002,"t3":0.002,"t4":0.002,"t5":0.002,"t6":0.002,"t7":0.002,"t8":0.003,"t9":0.003,"t10":0.003,"t11":0.003,"t12":0.003,"t13":0.003,"t14":0.003,"t15":0.003}],
"g":[
{"w":350,"t0":0.7,"t1":0.69,"t2":0.68,"t3":0.67,"t4":0.66,"t5":0.65,"t6":0.64,"t7":0.63,"t8":0.62,"t9":0.61,"t10":0.6,"t11":0.59,"t12":0.58,"t13":0.57,"t14":0.56,"t15":0.55},
{"w":355,"t0":0.84,"t1":0.831,"t2":0.821,"t3":0.812,"t4":0.803,"t5":0.793,"t6":0.784,"t7":0.775,"t8":0.765,"t9":0.756,"t10":0.747,"t11":0.737,"t12":0.728,"t13":0.719,"t14":0.709,"t15":0.7},
{"w":360,"t0":0.92,"t1":0.915,"t2":0.909,"t3":0.904,"t4":0.899,"t5":0.893,"t6":0.888,"t7":0.883,"t8":0.877,"t9":0.872,"t10":0.867,"t11":0.861,"t12":0.856,"t13":0.851,"t14":0.845,"t15":0.84},
{"w":365,"t0":0.965,"t1":0.963,"t2":0.96,"t3":0.958,"t4":0.956,"t5":0.953,"t6":0.951,"t7":0.949,"t8":0.946,"t9":0.944,"t10":0.942,"t11":0.939,"t12":0.937,"t13":0.935,"t14":0.932,"t15":0.93},
{"w":370,"t0":0.97,"t1":0.97,"t2":0.969,"t3":0.969,"t4":0.969,"t5":0.968,"t6":0.968,"t7":0.968,"t8":0.967,"t9":0.967,"t10":0.967,"t11":0.966,"t12":0.966,"t13":0.966,"t14":0.965,"t15":0.965},
{"w":375,"t0":0.92,"t1":0.922,"t2":0.923,"t3":0.925,"t4":0.927,"t5":0.928,"t6":0.93,"t7":0.932,"t8":0.933,"t9":0.935,"t10":0.937,"t11":0.938,"t12":0.94,"t13":0.942,"t14":0.943,"t15":0.945},
{"w":380,"t0":0.82,"t1":0.824,"t2":0.828,"t3":0.832,"t4":0.836,"t5":0.84,"t6":0.844,"t7":0.848,"t8":0.852,"t9":0.856,"t10":0.86,"t11":0.864,"t12":0.868,"t13":0.872,"t14":0.876,"t15":0.88},
{"w":385,"t0":0.67,"t1":0.675,"t2":0.681,"t3":0.686,"t4":0.691,"t5":0.697,"t6":0.702,"t7":0.707,"t8":0.713,"t9":0.718,"t10":0.723,"t11":0.729,"t12":0.734,"t13":0.739,"t14":0.745,"t15":0.75},
{"w":390,"t0":0.525,"t1":0.529,"t2":0.534,"t3":0.538,"t4":0.542,"t5":0.547,"t6":0.551,"t7":0.555,"t8":0.56,"t9":0.564,"t10":0.568,"t11":0.573,"t12":0.577,"t13":0.581,"t14":0.586,"t15":0.59},
{"w":395,"t0":0.385,"t1":0.389,"t2":0.394,"t3":0.398,"t4":0.402,"t5":0.407,"t6":0.411,"t7":0.415,"t8":0.42,"t9":0.424,"t10":0.428,"t11":0.433,"t12":0.437,"t13":0.441,"t14":0.446,"t15":0.45},
{"w":400,"t0":0.28,"t1":0.285,"t2":0.289,"t3":0.294,"t4":0.299,"t5":0.303,"t6":0.308,"t7":0.313,"t8":0.317,"t9":0.322,"t10":0.327,"t11":0.331,"t12":0.336,"t13":0.341,"t14":0.345,"t15":0.35},
{"w":405,"t0":0.21,"t1":0.214,"t2":0.217,"t3":0.221,"t4":0.225,"t5":0.228,"t6":0.232,"t7":0.236,"t8":0.239,"t9":0.243,"t10":0.247,"t11":0.25,"t12":0.254,"t13":0.258,"t14":0.261,"t15":0.265},
{"w":410,"t0":0.155,"t1":0.158,"t2":0.162,"t3":0.165,"t4":0.168,"t5":0.172,"t6":0.175,"t7":0.178,"t8":0.182,"t9":0.185,"t10":0.188,"t11":0.192,"t12":0.195,"t13":0.198,"t14":0.202,"t15":0.205},
{"w":415,"t0":0.115,"t1":0.118,"t2":0.12,"t3":0.123,"t4":0.126,"t5":0.128,"t6":0.131,"t7":0.134,"t8":0.136,"t9":0.139,"t10":0.142,"t11":0.144,"t12":0.147,"t13":0.15,"t14":0.152,"t15":0.155},
{"w":420,"t0":0.088,"t1":0.09,"t2":0.092,"t3":0.094,"t4":0.097,"t5":0.099,"t6":0.101,"t7":0.103,"t8":0.105,"t9":0.107,"t10":0.109,"t11":0.111,"t12":0.114,"t13":0.116,"t14":0.118,"t15":0.12},
{"w":430,"t0":0.06,"t1":0.062,"t2":0.064,"t3":0.066,"t4":0.068,"t5":0.07,"t6":0.072,"t7":0.074,"t8":0.076,"t9":0.078,"t10":0.08,"t11":0.082,"t12":0.084,"t13":0.086,"t14":0.088,"t15":0.09},
{"w":440,"t0":0.045,"t1":0.047,"t2":0.049,"t3":0.051,"t4":0.053,"t5":0.055,"t6":0.057,"t7":0.059,"t8":0.061,"t9":0.063,"t10":0.065,"t11":0.067,"t12":0.069,"t13":0.071,"t14":0.073,"t15":0.075},
{"w":450,"t0":0.032,"t1":0.034,"t2":0.036,"t3":0.038,"t4":0.039,"t5":0.041,"t6":0.043,"t7":0.045,"t8":0.047,"t9":0.049,"t10":0.051,"t11":0.053,"t12":0.054,"t13":0.056,"t14":0.058,"t15":0.06},
{"w":460,"t0":0.022,"t1":0.024,"t2":0.026,"t3":0.028,"t4":0.03,"t5":0.032,"t6":0.034,"t7":0.036,"t8":0.038,"t9":0.04,"t10":0.042,"t11":0.044,"t12":0.046,"t13":0.048,"t14":0.05,"t15":0.052},
{"w":470,"t0":0.014,"t1":0.016,"t2":0.017,"t3":0.019,"t4":0.021,"t5":0.023,"t6":0.024,"t7":0.026,"t8":0.028,"t9":0.03,"t10":0.031,"t11":0.033,"t12":0.035,"t13":0.037,"t14":0.038,"t15":0.04},
{"w":480,"t0":0.008,"t1":0.009,"t2":0.01,"t3":0.01,"t4":0.011,"t5":0.012,"t6":0.013,"t7":0.014,"t8":0.014,"t9":0.015,"t10":0.016,"t11":0.017,"t12":0.018,"t13":0.018,"t14":0.019,"t15":0.02},
{"w":490,"t0":0.005,"t1":0.005,"t2":0.006,"t3":0.006,"t4":0.007,"t5":0.007,"t6":0.008,"t7":0.008,"t8":0.009,"t9":0.009,"t10":0.01,"t11":0.01,"t12":0.011,"t13":0.011,"t14":0.012,"t15":0.012},
{"w":500,"t0":0.003,"t1":0.003,"t2":0.004,"t3":0.004,"t4":0.004,"t5":0.004,"t6":0.005,"t7":0.005,"t8":0.005,"t9":0.005,"t10":0.006,"t11":0.006,"t12":0.006,"t13":0.006,"t14":0.007,"t15":0.007},
{"w":510,"t0":0.002,"t1":0.002,"t2":0.002,"t3":0.003,"t4":0.003,"t5":0.003,"t6":0.003,"t7":0.003,"t8":0.004,"t9":0.004,"t10":0.004,"t11":0.004,"t12":0.004,"t13":0.005,"t14":0.005,"t15":0.005},
{"w":520,"t0":0.002,"t1":0.002,"t2":0.002,"t3":0.002,"t4":0.002,"t5":0.003,"t6":0.003,"t7":0.003,"t8":0.003,"t9":0.003,"t10":0.003,"t11":0.003,"t12":0.004,"t13":0.004,"t14":0.004,"t15":0.004},
{"w":530,"t0":0.001,"t1":0.001,"t2":0.001,"t3":0.001,"t4":0.002,"t5":0.002,"t6":0.002,"t7":0.002,"t8":0.002,"t9":0.002,"t10":0.002,"t11":0.002,"t12":0.003,"t13":0.003,"t14":0.003,"t15":0.003}],
"h":[
{"w":350,"t0":0.21,"t1":0.21,"t2":0.205,"t3":0.205,"t4":0.2,"t5":0.2,"t6":0.2,"t7":0.2,"t8":0.195,"t9":0.195,"t10":0.195,"t11":0.19,"t12":0.19,"t13":0.185,"t14":0.18,"t15":0.17},
{"w":355,"t0":0.355,"t1":0.355,"t2":0.35,"t3":0.35,"t4":0.35,"t5":0.345,"t6":0.345,"t7":0.345,"t8":0.345,"t9":0.34,"t10":0.34,"t11":0.34,"t12":0.34,"t13":0.335,"t14":0.335,"t15":0.33},
{"w":360,"t0":0.49,"t1":0.49,"t2":0.49,"t3":0.485,"t4":0.485,"t5":0.485,"t6":0.485,"t7":0.48,"t8":0.48,"t9":0.48,"t10":0.48,"t11":0.475,"t12":0.475,"t13":0.475,"t14":0.47,"t15":0.465},
{"w":365,"t0":0.64,"t1":0.64,"t2":0.635,"t3":0.635,"t4":0.635,"t5":0.635,"t6":0.63,"t7":0.63,"t8":0.63,"t9":0.63,"t10":0.625,"t11":0.625,"t12":0.625,"t13":0.62,"t14":0.62,"t15":0.615},
{"w":370,"t0":0.78,"t1":0.78,"t2":0.775,"t3":0.775,"t4":0.775,"t5":0.775,"t6":0.77,"t7":0.77,"t8":0.77,"t9":0.77,"t10":0.765,"t11":0.765,"t12":0.765,"t13":0.76,"t14":0.76,"t15":0.755},
{"w":375,"t0":0.885,"t1":0.885,"t2":0.885,"t3":0.88,"t4":0.88,"t5":0.88,"t6":0.88,"t7":0.88,"t8":0.875,"t9":0.875,"t10":0.875,"t11":0.875,"t12":0.87,"t13":0.87,"t14":0.865,"t15":0.86},
{"w":380,"t0":0.945,"t1":0.945,"t2":0.945,"t3":0.945,"t4":0.945,"t5":0.945,"t6":0.945,"t7":0.945,"t8":0.94,"t9":0.94,"t10":0.94,"t11":0.94,"t12":0.935,"t13":0.935,"t14":0.935,"t15":0.93},
{"w":385,"t0":0.95,"t1":0.952,"t2":0.954,"t3":0.955,"t4":0.956,"t5":0.957,"t6":0.958,"t7":0.958,"t8":0.958,"t9":0.957,"t10":0.956,"t11":0.954,"t12":0.952,"t13":0.95,"t14":0.948,"t15":0.94},
{"w":390,"t0":0.87,"t1":0.875,"t2":0.88,"t3":0.885,"t4":0.888,"t5":0.89,"t6":0.892,"t7":0.893,"t8":0.894,"t9":0.894,"t10":0.893,"t11":0.892,"t12":0.891,"t13":0.89,"t14":0.888,"t15":0.88},
{"w":395,"t0":0.8,"t1":0.805,"t2":0.81,"t3":0.815,"t4":0.818,"t5":0.82,"t6":0.822,"t7":0.824,"t8":0.825,"t9":0.825,"t10":0.825,"t11":0.825,"t12":0.824,"t13":0.823,"t14":0.822,"t15":0.82},
{"w":400,"t0":0.74,"t1":0.745,"t2":0.75,"t3":0.752,"t4":0.754,"t5":0.756,"t6":0.758,"t7":0.76,"t8":0.762,"t9":0.764,"t10":0.766,"t11":0.768,"t12":0.77,"t13":0.772,"t14":0.775,"t15":0.78},
{"w":405,"t0":0.66,"t1":0.67,"t2":0.68,"t3":0.69,"t4":0.695,"t5":0.7,"t6":0.71,"t7":0.715,"t8":0.72,"t9":0.73,"t10":0.735,"t11":0.74,"t12":0.745,"t13":0.75,"t14":0.755,"t15":0.76},
{"w":410,"t0":0.57,"t1":0.585,"t2":0.6,"t3":0.615,"t4":0.625,"t5":0.635,"t6":0.645,"t7":0.655,"t8":0.665,"t9":0.675,"t10":0.685,"t11":0.695,"t12":0.7,"t13":0.71,"t14":0.72,"t15":0.74},
{"w":415,"t0":0.47,"t1":0.495,"t2":0.52,"t3":0.54,"t4":0.555,"t5":0.575,"t6":0.59,"t7":0.605,"t8":0.62,"t9":0.635,"t10":0.65,"t11":0.665,"t12":0.675,"t13":0.69,"t14":0.7,"t15":0.735},
{"w":420,"t0":0.4,"t1":0.425,"t2":0.45,"t3":0.47,"t4":0.49,"t5":0.515,"t6":0.535,"t7":0.555,"t8":0.575,"t9":0.6,"t10":0.625,"t11":0.645,"t12":0.665,"t13":0.69,"t14":0.705,"t15":0.78},
{"w":425,"t0":0.36,"t1":0.38,"t2":0.4,"t3":0.42,"t4":0.44,"t5":0.465,"t6":0.49,"t7":0.51,"t8":0.535,"t9":0.565,"t10":0.6,"t11":0.635,"t12":0.665,"t13":0.715,"t14":0.745,"t15":0.83},
{"w":430,"t0":0.33,"t1":0.35,"t2":0.37,"t3":0.39,"t4":0.41,"t5":0.435,"t6":0.46,"t7":0.485,"t8":0.515,"t9":0.555,"t10":0.6,"t11":0.64,"t12":0.68,"t13":0.75,"t14":0.79,"t15":0.875},
{"w":435,"t0":0.31,"t1":0.33,"t2":0.35,"t3":0.37,"t4":0.39,"t5":0.415,"t6":0.445,"t7":0.47,"t8":0.51,"t9":0.56,"t10":0.62,"t11":0.67,"t12":0.71,"t13":0.79,"t14":0.83,"t15":0.9},
{"w":440,"t0":0.285,"t1":0.305,"t2":0.325,"t3":0.345,"t4":0.37,"t5":0.4,"t6":0.435,"t7":0.465,"t8":0.515,"t9":0.575,"t10":0.645,"t11":0.705,"t12":0.745,"t13":0.82,"t14":0.86,"t15":0.925},
{"w":445,"t0":0.265,"t1":0.285,"t2":0.305,"t3":0.33,"t4":0.355,"t5":0.385,"t6":0.425,"t7":0.46,"t8":0.515,"t9":0.585,"t10":0.66,"t11":0.72,"t12":0.75,"t13":0.835,"t14":0.875,"t15":0.945},
{"w":450,"t0":0.245,"t1":0.265,"t2":0.285,"t3":0.31,"t4":0.335,"t5":0.365,"t6":0.405,"t7":0.445,"t8":0.5,"t9":0.57,"t10":0.65,"t11":0.715,"t12":0.745,"t13":0.84,"t14":0.88,"t15":0.96},
{"w":455,"t0":0.215,"t1":0.24,"t2":0.26,"t3":0.285,"t4":0.31,"t5":0.34,"t6":0.38,"t7":0.42,"t8":0.475,"t9":0.54,"t10":0.62,"t11":0.69,"t12":0.725,"t13":0.825,"t14":0.87,"t15":0.97},
{"w":460,"t0":0.195,"t1":0.215,"t2":0.235,"t3":0.26,"t4":0.285,"t5":0.315,"t6":0.355,"t7":0.39,"t8":0.445,"t9":0.51,"t10":0.59,"t11":0.655,"t12":0.695,"t13":0.795,"t14":0.845,"t15":0.96},
{"w":465,"t0":0.18,"t1":0.195,"t2":0.215,"t3":0.24,"t4":0.265,"t5":0.29,"t6":0.33,"t7":0.36,"t8":0.41,"t9":0.47,"t10":0.55,"t11":0.615,"t12":0.655,"t13":0.755,"t14":0.81,"t15":0.925},
{"w":470,"t0":0.16,"t1":0.175,"t2":0.195,"t3":0.22,"t4":0.24,"t5":0.265,"t6":0.3,"t7":0.33,"t8":0.375,"t9":0.43,"t10":0.51,"t11":0.57,"t12":0.61,"t13":0.71,"t14":0.765,"t15":0.865},
{"w":480,"t0":0.12,"t1":0.135,"t2":0.15,"t3":0.17,"t4":0.19,"t5":0.21,"t6":0.24,"t7":0.265,"t8":0.3,"t9":0.345,"t10":0.41,"t11":0.465,"t12":0.51,"t13":0.6,"t14":0.655,"t15":0.755},
{"w":490,"t0":0.09,"t1":0.1,"t2":0.11,"t3":0.125,"t4":0.14,"t5":0.155,"t6":0.18,"t7":0.2,"t8":0.225,"t9":0.26,"t10":0.305,"t11":0.35,"t12":0.39,"t13":0.465,"t14":0.51,"t15":0.625},
{"w":500,"t0":0.062,"t1":0.07,"t2":0.078,"t3":0.088,"t4":0.098,"t5":0.11,"t6":0.125,"t7":0.14,"t8":0.16,"t9":0.18,"t10":0.21,"t11":0.24,"t12":0.27,"t13":0.32,"t14":0.35,"t15":0.48},
{"w":510,"t0":0.045,"t1":0.05,"t2":0.055,"t3":0.062,"t4":0.07,"t5":0.078,"t6":0.088,"t7":0.1,"t8":0.115,"t9":0.125,"t10":0.14,"t11":0.155,"t12":0.17,"t13":0.2,"t14":0.215,"t15":0.32},
{"w":520,"t0":0.033,"t1":0.037,"t2":0.042,"t3":0.048,"t4":0.054,"t5":0.06,"t6":0.068,"t7":0.078,"t8":0.09,"t9":0.1,"t10":0.11,"t11":0.12,"t12":0.135,"t13":0.155,"t14":0.17,"t15":0.24},
{"w":530,"t0":0.028,"t1":0.032,"t2":0.036,"t3":0.04,"t4":0.046,"t5":0.052,"t6":0.06,"t7":0.068,"t8":0.076,"t9":0.085,"t10":0.095,"t11":0.105,"t12":0.12,"t13":0.135,"t14":0.155,"t15":0.2}]
},
"columns":2,
"spacing":{"row":50,"column":149},"bounds":"flush",
"resolve":{"scale":{"color":"independent"}},
"concat":[
 {"width":260,"height":250,"layer":[
  {"data":{"name":"a"},"transform":[{"fold":["MeOH","CHCl3","H2O"],"as":["key","v"]}],"mark":{"type":"line","strokeWidth":1.7,"interpolate":"monotone"},
   "encoding":{"x":{"field":"w","type":"quantitative","scale":{"domain":[350,530],"nice":false,"zero":false},"axis":{"values":[360,370,380,390,400,410,420,430,440,450,460,470,480,490,500,510,520],"labelExpr":"datum.value % 40 === 0 ? datum.label : ''","tickSize":{"condition":{"test":"datum.value % 40 === 0","value":6},"value":3},"title":"Wavelength (nm)"}},
   "y":{"field":"v","type":"quantitative","scale":{"domain":[0,1.1],"nice":false,"zero":false},"axis":{"values":[0,0.1,0.2,0.3,0.4,0.5,0.6,0.7,0.8,0.9,1],"labelExpr":"round(datum.value*10) % 2 === 0 ? format(datum.value, '.1f') : ''","tickSize":{"condition":{"test":"round(datum.value*10) % 2 === 0","value":6},"value":3},"title":"Norm. Fl. Intensity"}},
   "color":{"field":"key","type":"nominal","scale":{"domain":["MeOH","CHCl3","H2O"],"range":["#35b074","#c95a2a","#7f12ea"]},"legend":{"orient":"none","legendX":196,"legendY":0,"title":null,"symbolType":"stroke","symbolSize":729,"symbolStrokeWidth":2,"labelFontSize":22,"labelOffset":3,"rowPadding":6.5,"labelExpr":"datum.label === 'CHCl3' ? 'CHCl₃' : datum.label === 'H2O' ? 'H₂O' : datum.label"}}}},
  {"data":{"values":[{}]},"mark":{"type":"circle","color":"#c95a2a","size":28,"opacity":1},"encoding":{"x":{"datum":384.6,"scale":{"domain":[350,530],"nice":false,"zero":false}},"y":{"datum":0.895,"scale":{"domain":[0,1.1],"nice":false,"zero":false}}}},
  {"data":{"values":[{}]},"mark":{"type":"text","align":"left","baseline":"middle","fontSize":24},"encoding":{"x":{"datum":305,"scale":{"domain":[350,530],"nice":false,"zero":false}},"y":{"datum":1.09,"scale":{"domain":[0,1.1],"nice":false,"zero":false}},"text":{"value":"a)"}}},
  {"data":{"values":[{}]},"mark":{"type":"text","align":"right","baseline":"middle","fontSize":24,"fontWeight":"bold"},"encoding":{"x":{"datum":395.5,"scale":{"domain":[350,530],"nice":false,"zero":false}},"y":{"datum":1.048,"scale":{"domain":[0,1.1],"nice":false,"zero":false}},"text":{"value":"D"}}},
  {"data":{"values":[{}]},"mark":{"type":"text","align":"left","baseline":"middle","fontSize":24},"encoding":{"x":{"datum":395.5,"scale":{"domain":[350,530],"nice":false,"zero":false}},"y":{"datum":1.048,"scale":{"domain":[0,1.1],"nice":false,"zero":false}},"text":{"value":"H*"}}},
  {"data":{"values":[{}]},"mark":{"type":"text","align":"right","baseline":"middle","fontSize":24,"fontWeight":"bold"},"encoding":{"x":{"datum":464.5,"scale":{"domain":[350,530],"nice":false,"zero":false}},"y":{"datum":1.048,"scale":{"domain":[0,1.1],"nice":false,"zero":false}},"text":{"value":"D"}}},
  {"data":{"values":[{}]},"mark":{"type":"text","align":"left","baseline":"middle","fontSize":15},"encoding":{"x":{"datum":464.5,"scale":{"domain":[350,530],"nice":false,"zero":false}},"y":{"datum":1.11,"scale":{"domain":[0,1.1],"nice":false,"zero":false}},"text":{"value":"-*"}}}
 ]},
 {"width":260,"height":250,"layer":[
  {"data":{"name":"b"},"transform":[{"fold":["MeOH","CHCl3","H2O"],"as":["key","v"]}],"mark":{"type":"line","strokeWidth":1.7,"interpolate":"monotone"},
   "encoding":{"x":{"field":"w","type":"quantitative","scale":{"domain":[350,530],"nice":false,"zero":false},"axis":{"values":[360,370,380,390,400,410,420,430,440,450,460,470,480,490,500,510,520],"labelExpr":"datum.value % 40 === 0 ? datum.label : ''","tickSize":{"condition":{"test":"datum.value % 40 === 0","value":6},"value":3},"title":"Wavelength (nm)"}},
   "y":{"field":"v","type":"quantitative","scale":{"domain":[0,1.1],"nice":false,"zero":false},"axis":{"values":[0,0.1,0.2,0.3,0.4,0.5,0.6,0.7,0.8,0.9,1],"labelExpr":"round(datum.value*10) % 2 === 0 ? format(datum.value, '.1f') : ''","tickSize":{"condition":{"test":"round(datum.value*10) % 2 === 0","value":6},"value":3},"title":null}},
   "color":{"field":"key","type":"nominal","scale":{"domain":["MeOH","CHCl3","H2O"],"range":["#35b074","#c95a2a","#7f12ea"]},"legend":{"orient":"none","legendX":190,"legendY":0,"title":null,"symbolType":"stroke","symbolSize":729,"symbolStrokeWidth":2,"labelFontSize":22,"labelOffset":3,"rowPadding":6.5,"labelExpr":"datum.label === 'CHCl3' ? 'CHCl₃' : datum.label === 'H2O' ? 'H₂O' : datum.label"}}}},
  {"data":{"values":[{}]},"mark":{"type":"text","align":"left","baseline":"middle","fontSize":24},"encoding":{"x":{"datum":303,"scale":{"domain":[350,530],"nice":false,"zero":false}},"y":{"datum":1.09,"scale":{"domain":[0,1.1],"nice":false,"zero":false}},"text":{"value":"b)"}}},
  {"data":{"values":[{}]},"mark":{"type":"text","align":"right","baseline":"middle","fontSize":24,"fontWeight":"bold"},"encoding":{"x":{"datum":370.8,"scale":{"domain":[350,530],"nice":false,"zero":false}},"y":{"datum":1.048,"scale":{"domain":[0,1.1],"nice":false,"zero":false}},"text":{"value":"A"}}},
  {"data":{"values":[{}]},"mark":{"type":"text","align":"left","baseline":"middle","fontSize":15},"encoding":{"x":{"datum":370.8,"scale":{"domain":[350,530],"nice":false,"zero":false}},"y":{"datum":1.11,"scale":{"domain":[0,1.1],"nice":false,"zero":false}},"text":{"value":"*"}}},
  {"data":{"values":[{}]},"mark":{"type":"text","align":"right","baseline":"middle","fontSize":24,"fontWeight":"bold"},"encoding":{"x":{"datum":453.2,"scale":{"domain":[350,530],"nice":false,"zero":false}},"y":{"datum":1.048,"scale":{"domain":[0,1.1],"nice":false,"zero":false}},"text":{"value":"A"}}},
  {"data":{"values":[{}]},"mark":{"type":"text","align":"left","baseline":"middle","fontSize":24},"encoding":{"x":{"datum":453.2,"scale":{"domain":[350,530],"nice":false,"zero":false}},"y":{"datum":1.048,"scale":{"domain":[0,1.1],"nice":false,"zero":false}},"text":{"value":"H"}}},
  {"data":{"values":[{}]},"mark":{"type":"text","align":"left","baseline":"middle","fontSize":15},"encoding":{"x":{"datum":465.2,"scale":{"domain":[350,530],"nice":false,"zero":false}},"y":{"datum":1.11,"scale":{"domain":[0,1.1],"nice":false,"zero":false}},"text":{"value":"+*"}}}
 ]},
 {"width":260,"height":38,"layer":[
  {"data":{"values":[{}]},"mark":{"type":"rule","strokeDash":[3,2],"strokeWidth":1,"color":"#000"},"encoding":{"x":{"datum":-0.1923,"scale":{"domain":[0,1]},"axis":null},"x2":{"datum":1.2865},"y":{"datum":0.158,"scale":{"domain":[0,1]},"axis":null}}},
  {"data":{"values":[{}]},"mark":{"type":"text","fontSize":29,"align":"center","baseline":"alphabetic"},"encoding":{"x":{"datum":1.2423,"scale":{"domain":[0,1]},"axis":null},"y":{"datum":-0.684,"scale":{"domain":[0,1]},"axis":null},"text":{"value":"Time-resolved fluorescence"}}}
 ]},
 {"width":260,"height":38,"data":{"values":[{}]},"mark":{"type":"rule","strokeDash":[3,2],"strokeWidth":1,"color":"#000"},"encoding":{"x":{"datum":-0.2865,"scale":{"domain":[0,1]},"axis":null},"x2":{"datum":1.0231},"y":{"datum":0.158,"scale":{"domain":[0,1]},"axis":null}}},
 {"width":260,"height":250,"layer":[
  {"data":{"name":"c"},"transform":[{"fold":["t0","t1","t2","t3","t4","t5","t6","t7","t8","t9","t10","t11","t12","t13","t14","t15"],"as":["key","v"]}],"mark":{"type":"line","strokeWidth":1.4,"interpolate":"monotone"},
   "encoding":{"x":{"field":"w","type":"quantitative","scale":{"domain":[350,530],"nice":false,"zero":false},"axis":{"values":[360,370,380,390,400,410,420,430,440,450,460,470,480,490,500,510,520],"labelExpr":"datum.value % 40 === 0 ? datum.label : ''","tickSize":{"condition":{"test":"datum.value % 40 === 0","value":6},"value":3},"title":null}},
   "y":{"field":"v","type":"quantitative","scale":{"domain":[0,1.1],"nice":false,"zero":false},"axis":{"values":[0,0.1,0.2,0.3,0.4,0.5,0.6,0.7,0.8,0.9,1],"labelExpr":"round(datum.value*10) % 2 === 0 ? format(datum.value, '.1f') : ''","tickSize":{"condition":{"test":"round(datum.value*10) % 2 === 0","value":6},"value":3},"title":"Norm. Intensity"}},
   "color":{"field":"key","type":"nominal","scale":{"domain":["t0","t1","t2","t3","t4","t5","t6","t7","t8","t9","t10","t11","t12","t13","t14","t15"],"range":["#a65ef2","#a468e4","#9a80c2","#8c98a8","#88a98c","#78b870","#6ccf50","#60e438","#58ee22","#5ae60a","#7cc60c","#aab040","#c89c38","#d67c48","#ee6666","#f84e64"]},"legend":null}}},
  {"data":{"values":[{}]},"mark":{"type":"text","align":"left","baseline":"middle","fontSize":24},"encoding":{"x":{"datum":305,"scale":{"domain":[350,530],"nice":false,"zero":false}},"y":{"datum":1.08,"scale":{"domain":[0,1.1],"nice":false,"zero":false}},"text":{"value":"c)"}}},
  {"data":{"values":[{}]},"mark":{"type":"text","align":"left","baseline":"middle","fontSize":23},"encoding":{"x":{"datum":414,"scale":{"domain":[350,530],"nice":false,"zero":false}},"y":{"datum":1.01,"scale":{"domain":[0,1.1],"nice":false,"zero":false}},"text":{"value":"MeOH"}}}
 ]},
 {"width":260,"height":250,"resolve":{"scale":{"y":"independent"}},"layer":[
  {"layer":[
   {"data":{"name":"f"},"transform":[{"fold":["t0","t1","t2","t3","t4","t5","t6","t7","t8","t9","t10","t11","t12","t13","t14","t15"],"as":["key","v"]}],"mark":{"type":"line","strokeWidth":1.4,"interpolate":"monotone"},
    "encoding":{"x":{"field":"w","type":"quantitative","scale":{"domain":[350,530],"nice":false,"zero":false},"axis":{"values":[360,370,380,390,400,410,420,430,440,450,460,470,480,490,500,510,520],"labelExpr":"datum.value % 40 === 0 ? datum.label : ''","tickSize":{"condition":{"test":"datum.value % 40 === 0","value":6},"value":3},"title":null}},
    "y":{"field":"v","type":"quantitative","scale":{"domain":[0,1.1],"nice":false,"zero":false},"axis":{"values":[0,0.1,0.2,0.3,0.4,0.5,0.6,0.7,0.8,0.9,1],"labelExpr":"round(datum.value*10) % 2 === 0 ? format(datum.value, '.1f') : ''","tickSize":{"condition":{"test":"round(datum.value*10) % 2 === 0","value":6},"value":3},"title":null}},
    "color":{"field":"key","type":"nominal","scale":{"domain":["t0","t1","t2","t3","t4","t5","t6","t7","t8","t9","t10","t11","t12","t13","t14","t15"],"range":["#a65ef2","#a468e4","#9a80c2","#8c98a8","#88a98c","#78b870","#6ccf50","#60e438","#58ee22","#5ae60a","#7cc60c","#aab040","#c89c38","#d67c48","#ee6666","#f84e64"]},"legend":null}}},
   {"data":{"values":[{}]},"mark":{"type":"text","align":"left","baseline":"middle","fontSize":24},"encoding":{"x":{"datum":303,"scale":{"domain":[350,530],"nice":false,"zero":false}},"y":{"datum":1.08,"scale":{"domain":[0,1.1],"nice":false,"zero":false}},"text":{"value":"f)"}}},
   {"data":{"values":[{}]},"mark":{"type":"text","align":"left","baseline":"middle","fontSize":23},"encoding":{"x":{"datum":398,"scale":{"domain":[350,530],"nice":false,"zero":false}},"y":{"datum":1.01,"scale":{"domain":[0,1.1],"nice":false,"zero":false}},"text":{"value":"MeOH"}}}
  ]},
  {"layer":[
   {"data":{"name":"times"},"mark":{"type":"rule","strokeWidth":1.6},"encoding":{"x":{"datum":485,"scale":{"domain":[350,530],"nice":false,"zero":false}},"x2":{"datum":506},"y":{"field":"t","type":"quantitative","scale":{"domain":[-0.283,1.681],"reverse":true,"nice":false,"zero":false},"axis":null},
    "color":{"field":"key","type":"nominal","scale":{"domain":["t0","t1","t2","t3","t4","t5","t6","t7","t8","t9","t10","t11","t12","t13","t14","t15"],"range":["#a65ef2","#a468e4","#9a80c2","#8c98a8","#88a98c","#78b870","#6ccf50","#60e438","#58ee22","#5ae60a","#7cc60c","#aab040","#c89c38","#d67c48","#ee6666","#f84e64"]},"legend":null}}},
   {"data":{"values":[{}]},"mark":{"type":"text","align":"left","baseline":"middle","fontSize":23},"encoding":{"x":{"datum":509.8,"scale":{"domain":[350,530],"nice":false,"zero":false}},"y":{"datum":0,"scale":{"domain":[-0.283,1.681],"reverse":true,"nice":false,"zero":false},"axis":null},"text":{"value":"0"}}},
   {"data":{"values":[{}]},"mark":{"type":"text","align":"left","baseline":"middle","fontSize":23},"encoding":{"x":{"datum":510.5,"scale":{"domain":[350,530],"nice":false,"zero":false}},"y":{"datum":1.5,"scale":{"domain":[-0.283,1.681],"reverse":true,"nice":false,"zero":false},"axis":null},"text":{"value":"1.5"}}},
   {"data":{"values":[{}]},"mark":{"type":"text","align":"center","baseline":"middle","fontSize":23},"encoding":{"x":{"datum":514.5,"scale":{"domain":[350,530],"nice":false,"zero":false}},"y":{"datum":-0.215,"scale":{"domain":[-0.283,1.681],"reverse":true,"nice":false,"zero":false},"axis":null},"text":{"value":"Time (ns)"}}},
   {"data":{"values":[{}]},"mark":{"type":"rule","strokeWidth":1.6,"color":"#000"},"encoding":{"x":{"datum":514.3,"scale":{"domain":[350,530],"nice":false,"zero":false}},"y":{"datum":0.1,"scale":{"domain":[-0.283,1.681],"reverse":true,"nice":false,"zero":false},"axis":null},"y2":{"datum":1.27}}},
   {"data":{"values":[{}]},"mark":{"type":"point","shape":"M-0.72,-1L0.72,-1L0,1Z","filled":true,"color":"#000","size":324,"opacity":1},"encoding":{"x":{"datum":514.3,"scale":{"domain":[350,530],"nice":false,"zero":false}},"y":{"datum":1.31,"scale":{"domain":[-0.283,1.681],"reverse":true,"nice":false,"zero":false},"axis":null}}}
  ]}
 ]},
 {"width":260,"height":250,"layer":[
  {"data":{"name":"d"},"transform":[{"fold":["t0","t1","t2","t3","t4","t5","t6","t7","t8","t9","t10","t11","t12","t13","t14","t15"],"as":["key","v"]}],"mark":{"type":"line","strokeWidth":1.4,"interpolate":"monotone"},
   "encoding":{"x":{"field":"w","type":"quantitative","scale":{"domain":[350,530],"nice":false,"zero":false},"axis":{"values":[360,370,380,390,400,410,420,430,440,450,460,470,480,490,500,510,520],"labelExpr":"datum.value % 40 === 0 ? datum.label : ''","tickSize":{"condition":{"test":"datum.value % 40 === 0","value":6},"value":3},"title":null}},
   "y":{"field":"v","type":"quantitative","scale":{"domain":[0,1.1],"nice":false,"zero":false},"axis":{"values":[0,0.1,0.2,0.3,0.4,0.5,0.6,0.7,0.8,0.9,1],"labelExpr":"round(datum.value*10) % 2 === 0 ? format(datum.value, '.1f') : ''","tickSize":{"condition":{"test":"round(datum.value*10) % 2 === 0","value":6},"value":3},"title":"Norm. Intensity"}},
   "color":{"field":"key","type":"nominal","scale":{"domain":["t0","t1","t2","t3","t4","t5","t6","t7","t8","t9","t10","t11","t12","t13","t14","t15"],"range":["#a65ef2","#a468e4","#9a80c2","#8c98a8","#88a98c","#78b870","#6ccf50","#60e438","#58ee22","#5ae60a","#7cc60c","#aab040","#c89c38","#d67c48","#ee6666","#f84e64"]},"legend":null}}},
  {"data":{"values":[{}]},"mark":{"type":"text","align":"left","baseline":"middle","fontSize":24},"encoding":{"x":{"datum":305,"scale":{"domain":[350,530],"nice":false,"zero":false}},"y":{"datum":1.07,"scale":{"domain":[0,1.1],"nice":false,"zero":false}},"text":{"value":"d)"}}},
  {"data":{"values":[{}]},"mark":{"type":"text","align":"left","baseline":"middle","fontSize":23},"encoding":{"x":{"datum":414,"scale":{"domain":[350,530],"nice":false,"zero":false}},"y":{"datum":1.01,"scale":{"domain":[0,1.1],"nice":false,"zero":false}},"text":{"value":"CHCl₃"}}}
 ]},
 {"width":260,"height":250,"layer":[
  {"data":{"name":"g"},"transform":[{"fold":["t0","t1","t2","t3","t4","t5","t6","t7","t8","t9","t10","t11","t12","t13","t14","t15"],"as":["key","v"]}],"mark":{"type":"line","strokeWidth":1.4,"interpolate":"monotone"},
   "encoding":{"x":{"field":"w","type":"quantitative","scale":{"domain":[350,530],"nice":false,"zero":false},"axis":{"values":[360,370,380,390,400,410,420,430,440,450,460,470,480,490,500,510,520],"labelExpr":"datum.value % 40 === 0 ? datum.label : ''","tickSize":{"condition":{"test":"datum.value % 40 === 0","value":6},"value":3},"title":null}},
   "y":{"field":"v","type":"quantitative","scale":{"domain":[0,1.1],"nice":false,"zero":false},"axis":{"values":[0,0.1,0.2,0.3,0.4,0.5,0.6,0.7,0.8,0.9,1],"labelExpr":"round(datum.value*10) % 2 === 0 ? format(datum.value, '.1f') : ''","tickSize":{"condition":{"test":"round(datum.value*10) % 2 === 0","value":6},"value":3},"title":null}},
   "color":{"field":"key","type":"nominal","scale":{"domain":["t0","t1","t2","t3","t4","t5","t6","t7","t8","t9","t10","t11","t12","t13","t14","t15"],"range":["#a65ef2","#a468e4","#9a80c2","#8c98a8","#88a98c","#78b870","#6ccf50","#60e438","#58ee22","#5ae60a","#7cc60c","#aab040","#c89c38","#d67c48","#ee6666","#f84e64"]},"legend":null}}},
  {"data":{"values":[{}]},"mark":{"type":"text","align":"left","baseline":"middle","fontSize":24},"encoding":{"x":{"datum":303,"scale":{"domain":[350,530],"nice":false,"zero":false}},"y":{"datum":1.08,"scale":{"domain":[0,1.1],"nice":false,"zero":false}},"text":{"value":"g)"}}},
  {"data":{"values":[{}]},"mark":{"type":"text","align":"left","baseline":"middle","fontSize":23},"encoding":{"x":{"datum":398,"scale":{"domain":[350,530],"nice":false,"zero":false}},"y":{"datum":1.01,"scale":{"domain":[0,1.1],"nice":false,"zero":false}},"text":{"value":"CHCl₃"}}}
 ]},
 {"width":260,"height":250,"layer":[
  {"data":{"name":"e"},"transform":[{"fold":["t0","t1","t2","t3","t4","t5","t6","t7","t8","t9","t10","t11","t12","t13","t14","t15"],"as":["key","v"]}],"mark":{"type":"line","strokeWidth":1.4,"interpolate":"monotone"},
   "encoding":{"x":{"field":"w","type":"quantitative","scale":{"domain":[350,530],"nice":false,"zero":false},"axis":{"values":[360,370,380,390,400,410,420,430,440,450,460,470,480,490,500,510,520],"labelExpr":"datum.value % 40 === 0 ? datum.label : ''","tickSize":{"condition":{"test":"datum.value % 40 === 0","value":6},"value":3},"title":"Wavelength (nm)"}},
   "y":{"field":"v","type":"quantitative","scale":{"domain":[0,1.1],"nice":false,"zero":false},"axis":{"values":[0,0.1,0.2,0.3,0.4,0.5,0.6,0.7,0.8,0.9,1],"labelExpr":"round(datum.value*10) % 2 === 0 ? format(datum.value, '.1f') : ''","tickSize":{"condition":{"test":"round(datum.value*10) % 2 === 0","value":6},"value":3},"title":"Norm. Intensity"}},
   "color":{"field":"key","type":"nominal","scale":{"domain":["t0","t1","t2","t3","t4","t5","t6","t7","t8","t9","t10","t11","t12","t13","t14","t15"],"range":["#a65ef2","#a468e4","#9a80c2","#8c98a8","#88a98c","#78b870","#6ccf50","#60e438","#58ee22","#5ae60a","#7cc60c","#aab040","#c89c38","#d67c48","#ee6666","#f84e64"]},"legend":null}}},
  {"data":{"values":[{}]},"mark":{"type":"text","align":"left","baseline":"middle","fontSize":24},"encoding":{"x":{"datum":305,"scale":{"domain":[350,530],"nice":false,"zero":false}},"y":{"datum":1.085,"scale":{"domain":[0,1.1],"nice":false,"zero":false}},"text":{"value":"e)"}}},
  {"data":{"values":[{}]},"mark":{"type":"text","align":"left","baseline":"middle","fontSize":23},"encoding":{"x":{"datum":414,"scale":{"domain":[350,530],"nice":false,"zero":false}},"y":{"datum":1.01,"scale":{"domain":[0,1.1],"nice":false,"zero":false}},"text":{"value":"H₂O"}}}
 ]},
 {"width":260,"height":250,"layer":[
  {"data":{"name":"h"},"transform":[{"fold":["t0","t1","t2","t3","t4","t5","t6","t7","t8","t9","t10","t11","t12","t13","t14","t15"],"as":["key","v"]}],"mark":{"type":"line","strokeWidth":1.4,"interpolate":"monotone"},
   "encoding":{"x":{"field":"w","type":"quantitative","scale":{"domain":[350,530],"nice":false,"zero":false},"axis":{"values":[360,370,380,390,400,410,420,430,440,450,460,470,480,490,500,510,520],"labelExpr":"datum.value % 40 === 0 ? datum.label : ''","tickSize":{"condition":{"test":"datum.value % 40 === 0","value":6},"value":3},"title":"Wavelength (nm)"}},
   "y":{"field":"v","type":"quantitative","scale":{"domain":[0,1.1],"nice":false,"zero":false},"axis":{"values":[0,0.1,0.2,0.3,0.4,0.5,0.6,0.7,0.8,0.9,1],"labelExpr":"round(datum.value*10) % 2 === 0 ? format(datum.value, '.1f') : ''","tickSize":{"condition":{"test":"round(datum.value*10) % 2 === 0","value":6},"value":3},"title":null}},
   "color":{"field":"key","type":"nominal","scale":{"domain":["t0","t1","t2","t3","t4","t5","t6","t7","t8","t9","t10","t11","t12","t13","t14","t15"],"range":["#a65ef2","#a468e4","#9a80c2","#8c98a8","#88a98c","#78b870","#6ccf50","#60e438","#58ee22","#5ae60a","#7cc60c","#aab040","#c89c38","#d67c48","#ee6666","#f84e64"]},"legend":null}}},
  {"data":{"values":[{}]},"mark":{"type":"text","align":"left","baseline":"middle","fontSize":24},"encoding":{"x":{"datum":303,"scale":{"domain":[350,530],"nice":false,"zero":false}},"y":{"datum":1.09,"scale":{"domain":[0,1.1],"nice":false,"zero":false}},"text":{"value":"h)"}}},
  {"data":{"values":[{}]},"mark":{"type":"text","align":"left","baseline":"middle","fontSize":23},"encoding":{"x":{"datum":398,"scale":{"domain":[350,530],"nice":false,"zero":false}},"y":{"datum":1.01,"scale":{"domain":[0,1.1],"nice":false,"zero":false}},"text":{"value":"H₂O"}}}
 ]}
]
}
